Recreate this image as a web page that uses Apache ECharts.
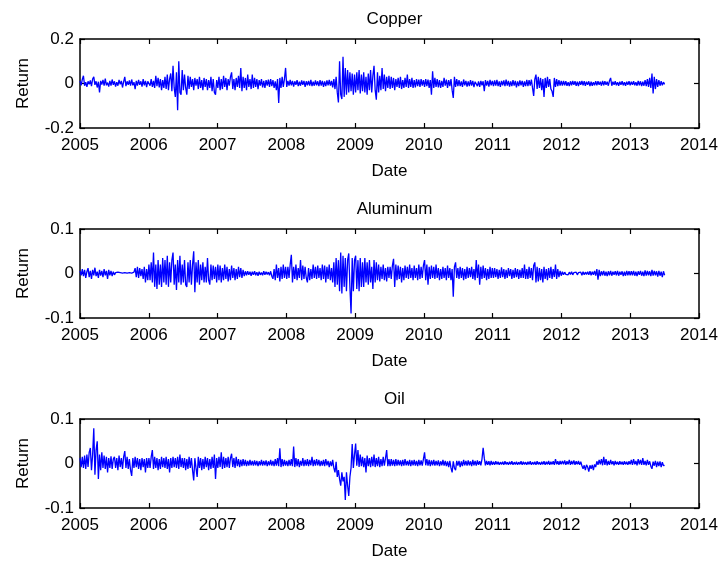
<!DOCTYPE html>
<html>
<head>
<meta charset="utf-8">
<script src="https://cdn.jsdelivr.net/npm/echarts@6/dist/echarts.min.js"></script>
<style>
html,body{margin:0;padding:0;background:#fff;}
#c{width:721px;height:562px;}
</style>
</head>
<body>
<div id="c"></div>
<script>
// Daily-return series (half-year rows, 30 values each), 2005.0 -> 2013.5
const startYear = 2005;
const endYear = 2013.5;
const xTicks = [2005, 2006, 2007, 2008, 2009, 2010, 2011, 2012, 2013, 2014];
const titles = ['Copper', 'Aluminum', 'Oil'];

const copper = [
  .012,-.008,.018,.035,-.01,.006,-.015,.01,-.004,.014,-.012,.02,.03,-.006,.01,-.018,.008,-.04,.012,-.005,.016,-.01,.022,-.008,.004,-.014,.012,-.01,.018,-.006,
  .01,-.014,.006,-.01,.016,-.004,.012,-.018,.008,.03,-.012,.01,-.006,.014,-.01,.018,-.008,.006,-.025,.012,-.01,.016,-.006,.01,-.014,.02,-.008,.012,-.016,.01,
  .015,-.01,.02,-.015,.012,-.02,.035,-.012,.025,-.018,.02,-.03,.015,-.02,.03,-.025,.04,-.03,.02,.045,-.035,.08,-.02,-.06,.05,-.12,.1,-.04,-.05,.06,
  -.03,.04,-.02,-.05,.035,-.025,.03,-.015,.02,-.03,.025,-.01,.02,-.025,.03,-.02,.015,-.03,.025,-.015,.02,-.03,.015,-.02,.03,-.035,.02,-.04,-.05,.015,
  -.02,.03,-.03,.02,-.025,.035,-.015,.025,-.03,.02,-.01,.03,.05,-.025,.02,-.03,.025,-.015,.035,-.02,.07,-.035,.03,-.02,.025,-.03,.04,-.015,.02,-.025,
  .04,-.02,.025,-.015,.02,-.025,.015,-.01,.02,-.018,.012,-.02,.015,-.01,.018,-.015,.02,-.012,.015,-.02,.01,-.03,.02,-.088,.025,-.02,.03,-.015,.02,.07,
  -.015,.012,-.01,.016,-.008,.012,-.014,.01,-.006,.015,-.012,.008,-.01,.014,-.006,.012,-.015,.01,-.008,.012,-.01,.016,-.012,.008,-.01,.014,-.008,.01,-.012,.015,
  -.01,.012,-.015,.01,-.012,.014,-.008,.016,-.01,.012,-.018,.02,-.025,.03,-.04,-.085,.1,-.05,-.07,.12,-.06,.07,-.05,.06,-.04,.05,-.035,.045,-.05,.04,
  -.04,.05,-.03,.06,-.045,.04,-.035,.05,-.04,.03,-.05,.045,-.03,.06,-.04,.035,.08,-.03,-.073,.05,-.04,.035,-.03,.07,-.025,.04,-.035,.03,-.02,.035,
  -.025,.03,-.02,.025,-.03,.02,-.015,.025,-.02,.03,-.025,.015,-.02,.025,-.015,.04,-.02,.02,-.015,.025,-.02,.015,-.018,.02,-.012,.018,-.015,.02,-.01,.015,
  -.015,.02,-.012,.018,-.02,.015,-.05,.055,-.02,.025,-.015,.02,-.018,.015,-.02,.012,-.015,.025,-.01,.018,-.02,.015,-.012,.02,-.03,-.065,.03,-.015,.02,-.012,
  .015,-.012,.01,-.015,.018,-.008,.012,-.014,.01,-.012,.015,-.01,.012,-.016,.008,.014,-.012,.01,-.015,.012,-.008,.01,-.035,.015,-.01,.012,-.014,.016,-.008,.012,
  -.012,.014,-.01,.016,-.012,.01,-.015,.012,-.008,.014,-.012,.018,-.01,.012,-.014,.01,-.012,.015,-.01,.012,-.018,.01,-.012,.014,-.008,.012,-.015,.01,-.012,.016,
  -.012,.015,-.01,.018,-.02,-.056,.02,.04,-.025,.03,-.02,.025,-.03,.02,-.06,.025,-.02,.03,-.015,.02,-.025,-.035,-.06,.025,-.015,.02,-.012,.015,-.01,.012,
  -.01,.012,-.008,.01,-.01,.006,-.012,.01,-.008,.012,-.006,.01,-.01,.008,-.012,.01,-.006,.012,-.008,.01,-.01,.008,-.006,.01,-.012,.008,-.01,.006,-.008,.01,
  -.008,.01,-.006,.008,-.01,.012,-.008,.01,-.006,.008,-.01,.012,.025,-.01,.008,-.006,.01,-.008,.006,-.01,.008,-.006,.01,-.008,.006,-.01,.008,-.006,.01,-.008,
  .008,-.006,.01,-.008,.006,-.01,.012,-.008,.01,-.012,.008,-.01,.015,-.012,.02,-.015,.025,-.02,.045,-.045,.03,-.025,.02,-.015,.015,-.01,.01,-.008,.006,-.004
];

const aluminum = [
  .006,-.004,.01,-.006,.008,-.01,.004,.012,-.008,.006,-.012,.008,-.004,.013,-.006,.004,-.01,.008,-.005,.006,-.008,.01,-.004,.006,-.012,.008,-.004,.006,-.006,.004,
  -.003,.002,-.002,.003,-.001,.002,-.002,.001,-.001,.002,-.001,.001,-.002,.002,-.001,.001,-.002,.003,.012,-.008,.015,-.01,.012,-.006,.01,-.012,.015,-.02,.01,-.015,
  .02,-.015,.025,-.02,.047,-.03,.02,-.035,.03,-.025,.02,-.03,.035,-.02,.03,-.025,.04,-.03,.025,-.02,.03,.047,-.025,.02,-.037,.03,-.02,.04,-.025,.02,
  -.02,.03,-.025,-.03,.025,-.02,.03,-.025,.02,.05,-.042,.025,-.02,.03,-.025,.02,-.015,.025,-.02,.015,-.02,.035,-.015,-.025,.02,-.015,.018,-.012,.015,-.02,
  .02,-.015,.018,-.02,.012,-.015,.02,-.012,.015,-.018,.01,-.015,.018,-.01,.012,-.015,.01,-.012,.015,-.008,.012,-.01,.008,-.006,.005,-.004,.005,-.003,.004,-.005,
  .004,-.003,.005,-.004,.003,-.005,.004,-.003,.002,-.004,.005,-.003,.004,-.002,.003,-.004,.005,-.006,-.012,.01,-.015,.02,-.01,.012,-.018,.015,-.012,.02,-.01,.015,
  -.012,.015,-.01,.02,.042,-.02,.015,-.012,.02,-.015,.012,-.01,.03,-.015,.018,-.012,.015,-.01,-.02,.012,-.015,.01,-.012,.02,-.01,.015,-.012,.018,-.01,.012,
  -.015,.02,-.012,.018,-.02,.015,-.012,.02,-.015,.012,-.02,.025,-.03,.035,-.025,.03,-.04,.047,-.045,.04,-.03,.035,-.04,.03,.045,-.03,-.09,.035,-.04,.03,
  .04,-.035,.03,-.04,.035,-.03,.025,-.03,.035,-.02,.025,-.025,.03,-.02,.015,-.035,.03,-.02,.025,-.015,.02,-.018,.015,-.012,.02,-.015,.012,-.018,.015,-.01,
  .015,-.012,.018,.033,-.03,.02,-.015,.018,-.012,.015,-.02,.012,-.015,.018,-.01,.015,-.012,.02,-.01,.012,-.015,.018,-.01,.012,-.015,.02,-.012,.015,-.01,.018,
  .03,-.015,.02,-.025,.015,-.012,.018,-.01,.015,-.012,.02,-.01,.012,-.015,.01,-.012,.015,-.01,.012,-.015,.018,-.01,.012,-.015,.01,-.052,.015,.025,-.01,.012,
  -.012,.015,-.01,.012,-.015,.01,-.012,.015,-.01,.012,-.008,.015,-.012,.01,-.015,.03,-.01,.02,-.025,.015,-.012,.018,-.01,.012,-.015,.01,-.012,.015,-.01,.012,
  -.01,.012,-.008,.01,-.012,.008,-.01,.014,-.008,.01,-.012,.008,-.01,.012,-.006,.01,-.012,.008,-.01,.012,-.008,.01,-.012,.008,-.01,.012,-.01,.02,-.012,.01,
  -.012,.015,-.01,.012,-.015,.018,.025,-.02,.015,-.018,.012,-.015,.01,-.02,.015,-.012,.01,-.015,.012,-.01,.015,-.012,.01,-.008,.02,-.012,.01,-.008,.006,-.005,
  .004,-.003,.003,-.002,.002,-.003,.003,-.002,.004,-.003,.002,-.002,.003,-.003,.002,-.002,.003,-.004,.004,-.003,.003,-.002,.004,-.003,.005,-.004,.004,-.003,.006,-.005,
  .01,-.014,.008,-.006,.005,-.004,.006,-.005,.004,-.006,.005,-.004,.006,-.005,.004,-.003,.005,-.004,.006,-.005,.004,-.003,.005,-.006,.004,-.005,.006,-.004,.005,-.004,
  .005,-.004,.006,-.005,.004,-.006,.005,-.003,.006,-.005,.004,-.006,.007,-.005,.006,-.004,.005,-.006,.008,-.005,.006,-.004,.005,-.007,.006,-.005,.004,-.008,.005,-.004
];

const oil = [
  .012,-.008,.015,-.01,.018,-.012,.02,-.008,.025,.035,-.015,.02,.079,-.025,.03,.05,-.035,.02,-.015,.025,-.01,.018,-.012,.015,-.02,.012,-.01,.016,-.012,.01,
  .015,-.01,.012,-.015,.018,-.008,.012,-.012,.015,.028,-.01,.015,-.012,.01,-.015,-.028,.012,-.01,.015,-.008,.012,-.012,.01,-.015,.012,-.008,.01,-.02,.012,-.01,
  .012,-.01,.015,.03,-.012,.015,-.01,.012,-.015,.01,-.012,.015,-.008,.012,-.01,.015,-.012,.01,-.02,.012,-.01,.015,-.008,.012,-.01,.015,-.012,.02,-.008,.012,
  -.01,.012,-.015,.01,-.012,.015,-.01,.012,-.015,-.038,.012,-.01,-.03,.015,-.01,.012,-.015,.01,-.012,.015,-.008,.012,-.015,.01,-.012,.015,-.01,.02,-.035,.012,
  -.01,.015,-.008,.025,-.012,.015,-.01,.012,-.008,.015,-.01,.012,.022,-.008,.012,-.01,.015,-.006,.01,-.008,.008,-.006,.01,-.005,.008,-.006,.006,-.005,.008,-.004,
  .006,-.005,.007,-.004,.006,-.006,.005,-.004,.008,-.005,.006,-.004,.007,-.006,.005,-.004,.008,-.005,.006,-.006,.01,-.005,.012,-.006,.034,-.008,.01,-.006,.008,-.005,
  .006,-.006,.008,-.005,.01,-.006,.038,-.008,.012,-.006,.01,-.008,.006,-.005,.012,-.006,.008,-.005,.01,-.006,.008,-.004,.015,-.006,.008,-.005,.01,-.004,.008,-.006,
  .006,-.005,.008,-.006,.01,-.004,.006,-.008,.005,-.006,.008,-.01,-.02,.004,-.03,-.015,-.035,-.05,-.02,-.04,-.03,-.082,-.02,-.05,-.073,-.03,-.01,.044,-.01,.02,
  .045,-.005,.03,-.008,.02,-.006,.015,-.008,.012,-.02,.018,-.006,.012,-.008,.015,-.006,.02,-.008,.012,-.006,.015,-.008,.01,-.006,.015,-.005,.012,.03,-.006,.01,
  -.006,.01,-.005,.008,-.006,.01,-.005,.008,-.004,.007,-.006,.008,-.005,.01,-.004,.006,-.005,.008,-.006,.007,-.004,.008,-.005,.006,-.006,.008,-.004,.007,-.005,.01,
  .025,-.004,.01,-.005,.008,-.006,.007,-.004,.008,-.005,.006,-.004,.007,-.006,.005,-.004,.008,-.005,.006,-.006,.005,-.008,.006,-.01,-.02,.005,-.01,-.015,.006,-.005,
  .006,-.008,.005,-.006,.008,-.004,.006,-.005,.007,-.004,.005,-.006,.008,-.004,.006,-.005,.007,-.003,.005,-.004,.01,.035,.012,-.004,.006,-.003,.005,-.004,.006,-.003,
  .004,-.003,.005,-.002,.004,-.003,.003,-.002,.004,-.003,.005,-.002,.003,-.003,.004,-.002,.005,-.003,.003,-.002,.004,-.003,.003,-.002,.005,-.003,.004,-.002,.003,-.003,
  .004,-.002,.005,-.003,.003,-.002,.004,-.003,.005,-.002,.003,-.003,.004,-.002,.005,-.003,.004,-.002,.006,-.003,.004,-.002,.005,-.003,.01,-.002,.005,-.003,.006,-.002,
  .006,-.002,.007,-.003,.005,-.002,.008,-.003,.006,-.002,.007,-.003,.005,-.002,.006,-.003,.004,-.005,-.012,-.004,-.015,-.003,-.008,-.018,-.004,-.012,-.003,-.015,-.002,-.008,
  .005,-.003,.008,-.002,.01,-.004,.015,-.003,.01,-.004,.006,-.003,.008,-.002,.005,-.004,.006,-.002,.004,-.003,.005,-.002,.004,-.003,.005,-.002,.004,-.003,.005,-.002,
  .008,-.003,.01,-.002,.006,-.004,.01,-.002,.008,-.003,.012,-.003,.006,-.004,.008,-.003,.005,-.006,-.012,.004,-.005,.006,-.008,.004,-.006,.005,-.008,.003,-.005,-.004
];

const yRanges = [[-0.2, 0.2, 0.2], [-0.1, 0.1, 0.1], [-0.1, 0.1, 0.1]];
const seriesValues = [copper, aluminum, oil];

function withDates(vals) {
  const n = vals.length;
  return vals.map((v, i) => [startYear + i * (endYear - startYear) / (n - 1), v]);
}

const FONT = 'Liberation Sans, Arial, Helvetica, sans-serif';
const FS = 17;
const tops = [39, 229, 419];
const GL = 80, GW = 619, GH = 89;

const grid = [], xAxis = [], yAxis = [], series = [], title = [];
tops.forEach((t, k) => {
  grid.push({left: GL, top: t, width: GW, height: GH, show: false});
  title.push({text: titles[k], left: GL + GW / 2, top: t - 33, textAlign: 'center',
    textStyle: {fontFamily: FONT, fontSize: FS, fontWeight: 'normal', color: '#000'}});
  const axLine = {show: true, onZero: false, lineStyle: {color: '#000', width: 1.5}};
  const tick = {show: true, inside: true, length: 5, lineStyle: {color: '#000', width: 1.2}};
  xAxis.push({gridIndex: k, type: 'value', min: xTicks[0], max: xTicks[xTicks.length - 1], interval: 1, position: 'bottom',
    axisLine: axLine, axisTick: tick, splitLine: {show: false},
    axisLabel: {fontFamily: FONT, fontSize: FS, color: '#000', margin: 9, formatter: v => String(v)},
    name: 'Date', nameLocation: 'middle', nameGap: 35,
    nameTextStyle: {fontFamily: FONT, fontSize: FS, color: '#000'}});
  xAxis.push({gridIndex: k, type: 'value', min: xTicks[0], max: xTicks[xTicks.length - 1], interval: 1, position: 'top',
    axisLine: axLine, axisTick: tick, splitLine: {show: false}, axisLabel: {show: false}});
  const [ymin, ymax, yint] = yRanges[k];
  yAxis.push({gridIndex: k, type: 'value', min: ymin, max: ymax, interval: yint, position: 'left',
    axisLine: axLine, axisTick: tick, splitLine: {show: false},
    axisLabel: {fontFamily: FONT, fontSize: FS, color: '#000', margin: 6},
    name: 'Return', nameLocation: 'middle', nameRotate: 90, nameGap: 48,
    nameTextStyle: {fontFamily: FONT, fontSize: FS, color: '#000'}});
  yAxis.push({gridIndex: k, type: 'value', min: ymin, max: ymax, interval: yint, position: 'right',
    axisLine: axLine, axisTick: tick, splitLine: {show: false}, axisLabel: {show: false}});
  series.push({type: 'line', xAxisIndex: 2 * k, yAxisIndex: 2 * k, data: withDates(seriesValues[k]),
    showSymbol: false, symbol: 'none', lineStyle: {color: '#0000ff', width: 1.3}, color: '#0000ff',
    z: 1});
});

const chart = echarts.init(document.getElementById('c'), null, {renderer: 'canvas'});
chart.setOption({animation: false, backgroundColor: '#fff', title, grid, xAxis, yAxis, series});
</script>
</body>
</html>
